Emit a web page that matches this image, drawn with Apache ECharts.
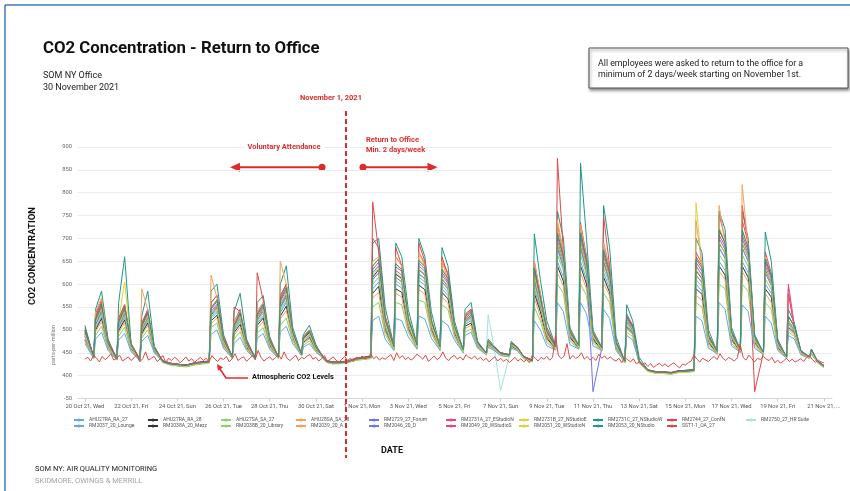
<!DOCTYPE html>
<html>
<head>
<meta charset="utf-8">
<script src="https://cdn.jsdelivr.net/npm/echarts@6/dist/echarts.min.js"></script>
<style>
  html, body { margin: 0; padding: 0; background: #fff; }
  #chart { width: 850px; height: 491px; }
</style>
</head>
<body>
<div id="chart"></div>
<script>
// sensor names, in legend order (10 per row)
const names = [
  'AHU27RA_RA_27', 'AHU27RA_RA_28', 'AHU27SA_SA_27', 'AHU28SA_SA_28', 'RM2729_27_Forum',
  'RM2731A_27_EStudioN', 'RM2731B_27_NStudioE', 'RM2731C_27_NStudioW', 'RM2744_27_ConfN', 'RM2750_27_HR Suite',
  'RM2037_20_Lounge', 'RM2038A_20_Mezz', 'RM2038B_20_Library', 'RM2039_20_A', 'RM2046_20_D',
  'RM2049_20_WStudioS', 'RM2051_20_WStudioN', 'RM2053_20_NStudio', 'SST1-1_OA_27'
]
const colors = ['#5fa8ee', '#333333', '#86d46a', '#f2a45a', '#7373ee', '#e8457c', '#e2d13c', '#1f9886', '#e04848', '#a5e4dc']

// x axis: days after 20 Oct 2021
const tickDays = [0, 2, 4, 6, 8, 10, 12, 14, 16, 18, 20, 22, 24, 26, 28, 30, 32]
// indoor sensors: 4 readings per day, at these fractions of the day
const dayOffsets = [0, 0.38, 0.46, 0.72]
// outdoor sensor: one reading every 3 hours
const outdoorStep = 0.125

// ppm, one row per day (20 Oct .. 20 Nov), last row = 21 Nov 00:00
const AHU27RA_RA_27 = [[480,442,505,530],[464,438,502,528],[460,436,495,520],[455,432,429,427],[425,423,425,427],[429,431,525,538],[470,441,498,518],[464,439,515,530],[468,441,538,560],[484,447,476,488],[458,437,432,429],[429,431,434,437],[438,441,590,605],[505,460,600,592],[508,463,608,598],[504,460,590,575],[495,454,512,520],[466,448,470,460],[447,444,466,459],[440,433,590,545],[485,460,650,615],[486,462,650,610],[482,458,625,590],[464,431,510,496],[430,412,410,408],[408,406,408,410],[410,412,600,585],[475,450,650,630],[482,454,650,625],[474,449,600,580],[465,440,512,497],[450,440,452,431],[421]]
const AHU27RA_RA_28 = [[478,440,500,525],[462,436,498,522],[458,434,492,515],[454,430,427,424],[422,420,422,424],[426,429,520,532],[468,439,494,512],[462,437,510,526],[466,439,530,552],[482,445,472,484],[456,435,430,427],[427,429,432,434],[436,439,580,595],[500,458,590,582],[503,461,598,588],[500,458,582,568],[492,452,508,515],[464,446,468,458],[445,442,464,457],[438,431,580,540],[482,458,640,606],[484,460,640,600],[480,456,615,582],[462,429,506,493],[428,410,408,406],[406,404,406,408],[408,410,590,578],[472,448,640,620],[479,452,640,615],[472,447,590,572],[462,438,506,494],[448,438,450,429],[420]]
const AHU27SA_SA_27 = [[474,438,488,508],[458,434,486,506],[455,432,482,500],[452,428,426,423],[421,419,421,423],[425,427,505,515],[462,437,480,496],[457,435,493,505],[460,437,510,526],[475,443,466,476],[453,434,429,426],[426,428,431,433],[435,437,550,560],[490,456,560,555],[495,459,565,560],[492,456,555,545],[485,450,495,502],[462,445,464,456],[444,441,462,455],[437,430,550,520],[472,456,600,580],[475,458,600,575],[472,454,580,560],[458,428,495,485],[427,409,407,405],[405,403,405,407],[407,409,560,550],[465,446,600,590],[470,450,600,585],[465,445,560,545],[458,437,495,486],[446,437,448,428],[418]]
const AHU28SA_SA_28 = [[478,439,496,518],[461,435,494,516],[457,433,488,510],[453,429,427,424],[422,420,422,424],[426,428,514,526],[466,438,488,506],[460,436,504,518],[464,438,524,542],[480,444,470,481],[455,435,430,427],[427,429,432,435],[436,438,570,582],[497,457,580,572],[500,460,588,578],[497,457,572,558],[489,451,503,510],[463,446,467,457],[445,442,463,456],[438,431,570,530],[478,457,625,596],[480,459,625,590],[476,455,602,575],[460,429,502,490],[428,410,408,406],[406,404,406,408],[408,410,575,565],[470,447,628,610],[476,451,628,605],[470,446,580,560],[460,438,502,490],[447,438,449,429],[419]]
const RM2729_27_Forum = [[500,440,520,548],[470,436,512,542],[466,434,504,532],[460,430,428,426],[424,422,424,426],[428,430,540,556],[476,440,508,532],[468,438,528,548],[474,440,555,582],[490,446,482,496],[460,436,431,428],[428,430,433,436],[438,440,625,640],[518,462,630,620],[520,466,640,628],[516,462,620,602],[504,455,522,532],[470,448,474,461],[448,444,469,461],[440,432,620,562],[494,462,695,650],[494,465,695,640],[365,460,660,615],[470,430,522,503],[430,411,409,407],[407,405,407,409],[409,411,640,620],[484,452,700,676],[490,456,700,666],[480,450,640,608],[470,440,590,503],[450,440,454,431],[420]]
const RM2731A_27_EStudioN = [[505,442,535,565],[476,438,525,555],[470,436,515,545],[463,432,429,427],[425,423,425,428],[430,432,560,575],[482,442,518,545],[474,440,540,560],[480,442,570,600],[495,448,486,500],[464,438,433,430],[430,432,435,438],[440,442,700,680],[530,465,660,640],[528,468,670,645],[522,464,650,625],[510,457,535,545],[472,450,477,463],[450,446,472,463],[442,434,650,580],[505,465,730,665],[500,467,735,660],[495,462,690,635],[474,432,535,510],[432,413,411,409],[409,407,409,411],[411,413,670,645],[490,453,753,700],[497,457,740,690],[486,450,670,625],[476,441,600,510],[454,441,458,432],[422]]
const RM2731B_27_NStudioE = [[495,440,525,560],[472,436,520,605],[468,434,510,540],[462,430,427,425],[424,421,423,426],[428,430,550,565],[478,440,512,540],[470,438,535,555],[476,440,565,595],[492,446,482,498],[462,436,432,428],[428,430,433,436],[438,440,640,655],[525,462,645,630],[525,466,655,640],[520,462,635,615],[508,455,530,540],[470,447,476,462],[447,444,470,461],[440,432,640,570],[498,462,720,660],[497,465,720,650],[492,460,680,625],[470,430,530,506],[430,410,408,406],[406,404,406,408],[408,410,778,640],[488,452,725,690],[494,456,720,680],[484,450,655,618],[474,440,530,506],[452,440,455,430],[418]]
const RM2731C_27_NStudioW = [[510,438,545,585],[480,436,560,660],[470,434,530,585],[465,430,428,425],[422,420,423,425],[428,430,585,600],[490,440,540,580],[480,436,560,575],[485,440,600,640],[505,446,490,510],[468,434,430,426],[427,430,434,436],[440,442,690,700],[550,465,690,660],[545,468,700,660],[540,462,680,640],[520,455,545,560],[475,450,480,465],[450,446,475,462],[440,432,710,610],[520,465,760,700],[505,466,865,700],[500,462,772,680],[485,430,555,520],[440,412,410,407],[407,405,408,410],[412,414,700,670],[500,452,760,720],[505,456,760,700],[490,450,714,650],[480,440,545,515],[455,440,458,430],[420]]
const RM2744_27_ConfN = [[500,442,530,560],[475,438,525,555],[470,436,515,540],[462,432,429,427],[425,423,425,428],[430,432,560,575],[485,442,550,540],[475,440,625,565],[480,442,575,600],[495,448,485,500],[464,438,433,430],[430,432,435,438],[440,442,780,670],[530,465,680,640],[525,468,690,650],[520,464,660,620],[510,456,530,545],[472,450,476,463],[450,446,470,463],[442,434,640,575],[505,465,875,670],[500,466,720,660],[495,462,748,640],[475,432,530,508],[432,413,411,409],[409,407,409,411],[411,413,660,640],[488,453,720,690],[495,457,772,690],[365,450,660,620],[476,441,530,508],[454,441,456,432],[422]]
const RM2750_27_HR_Suite = [[485,440,512,540],[466,436,508,535],[462,434,500,527],[458,430,428,425],[423,421,423,425],[427,430,530,545],[472,440,504,526],[466,438,522,540],[470,440,548,572],[488,446,480,494],[460,436,431,428],[428,430,432,435],[437,440,610,625],[512,460,615,605],[514,464,625,612],[510,460,605,588],[500,454,518,527],[468,448,533,460],[367,444,468,460],[440,432,605,555],[490,460,675,635],[490,463,675,628],[486,458,645,605],[466,430,518,500],[430,411,409,407],[407,405,407,409],[409,411,620,605],[480,451,680,660],[486,455,680,650],[478,450,660,600],[468,440,518,500],[450,440,453,430],[420]]
const RM2037_20_Lounge = [[470,438,480,495],[455,435,478,492],[452,433,475,488],[450,430,427,425],[423,421,423,425],[427,429,490,500],[460,438,470,484],[455,436,482,492],[458,438,495,508],[470,444,462,470],[452,435,430,427],[427,429,432,435],[436,439,520,530],[480,455,525,520],[485,458,530,524],[482,455,520,510],[478,450,488,495],[460,446,462,455],[444,442,460,455],[438,431,520,500],[465,456,560,540],[468,458,560,535],[465,455,545,525],[455,430,488,478],[428,411,409,407],[407,405,407,409],[409,411,530,520],[460,448,560,545],[465,451,555,540],[460,446,530,515],[455,438,488,480],[446,438,448,429],[419]]
const RM2038A_20_Mezz = [[492,442,515,545],[468,438,510,540],[464,436,502,530],[458,432,429,427],[425,423,425,427],[429,431,535,552],[474,441,505,530],[467,439,525,545],[472,441,552,578],[488,447,480,494],[460,437,432,429],[429,431,434,437],[438,441,615,632],[515,462,622,612],[518,465,632,620],[512,461,612,595],[502,455,520,530],[469,448,472,461],[448,444,468,460],[440,433,615,560],[492,461,688,645],[493,464,688,636],[488,459,655,612],[468,431,520,502],[431,412,410,408],[408,406,408,410],[410,412,630,612],[482,451,690,668],[488,455,690,660],[478,449,632,603],[468,440,520,502],[450,440,453,431],[421]]
const RM2038B_20_Library = [[488,441,510,536],[466,437,506,532],[462,435,498,524],[457,431,428,426],[424,422,424,426],[428,430,528,542],[471,440,500,522],[465,438,518,536],[469,440,542,565],[486,446,478,490],[459,436,431,428],[428,430,433,436],[437,440,600,615],[508,460,608,598],[512,463,615,605],[507,460,598,582],[498,454,515,524],[467,447,470,460],[447,443,467,459],[439,432,600,550],[488,460,665,628],[489,462,665,620],[484,458,636,598],[466,430,515,498],[430,411,409,407],[407,405,407,409],[409,411,610,595],[478,450,665,645],[484,454,665,638],[476,449,612,588],[466,440,515,498],[450,440,452,430],[420]]
const RM2039_20_A = [[490,440,540,570],[470,436,520,550],[468,434,590,545],[460,430,427,424],[423,421,424,427],[428,430,620,570],[480,440,520,540],[470,438,540,560],[478,440,650,600],[495,446,485,500],[462,436,431,427],[428,431,433,437],[438,440,650,660],[525,462,660,640],[530,466,670,640],[525,462,650,610],[510,455,535,540],[470,448,478,462],[448,444,472,462],[440,432,650,580],[500,462,740,670],[500,465,730,655],[495,460,690,630],[472,430,530,505],[430,412,409,407],[408,406,407,409],[410,412,739,640],[490,452,772,690],[495,456,818,680],[485,450,660,620],[475,440,583,505],[452,440,455,430],[422]]
const RM2046_20_D = [[486,441,512,540],[466,437,508,536],[462,435,500,528],[457,431,428,426],[424,422,424,426],[428,430,532,548],[473,440,503,527],[466,438,522,541],[470,440,548,572],[488,446,480,492],[460,436,431,428],[428,430,433,436],[437,440,610,625],[512,461,615,605],[515,464,622,612],[510,461,605,590],[500,454,518,528],[468,447,471,460],[447,443,468,460],[440,432,608,555],[490,460,680,636],[490,463,680,628],[486,458,648,605],[467,430,518,500],[430,411,409,407],[407,405,407,409],[409,411,620,603],[480,451,680,656],[486,455,680,650],[477,449,625,597],[467,440,518,500],[450,440,453,430],[420]]
const RM2049_20_WStudioS = [[496,442,522,552],[470,438,515,546],[466,436,506,536],[460,432,429,427],[425,423,425,427],[429,431,545,562],[478,441,510,535],[470,439,532,552],[476,441,562,588],[492,447,482,497],[462,437,432,429],[429,431,434,437],[438,441,632,648],[520,463,638,628],[522,466,646,633],[518,462,626,606],[506,456,525,536],[471,449,475,462],[449,445,471,462],[441,433,628,568],[496,463,705,658],[496,466,705,648],[491,461,668,622],[471,431,527,506],[432,412,410,408],[408,406,408,410],[410,412,648,628],[486,453,708,683],[493,457,708,673],[483,451,648,614],[473,441,580,506],[453,441,456,432],[422]]
const RM2051_20_WStudioN = [[490,439,516,546],[467,435,511,540],[463,433,503,531],[458,429,427,424],[422,420,422,424],[426,428,536,552],[474,438,505,530],[467,436,525,545],[472,438,553,580],[488,444,478,492],[459,434,429,426],[426,428,431,434],[435,438,620,636],[515,459,625,615],[517,463,634,622],[512,459,614,596],[502,452,520,530],[468,446,472,459],[446,442,468,459],[438,430,618,560],[492,459,690,646],[492,462,690,637],[487,457,656,613],[467,428,520,502],[428,409,407,405],[405,403,405,407],[407,409,632,614],[481,449,692,668],[488,453,692,660],[478,447,634,603],[468,438,520,502],[449,438,452,428],[417]]
const RM2053_20_NStudio = [[498,440,524,556],[471,436,518,550],[467,434,508,540],[461,430,428,425],[424,422,424,426],[428,430,548,566],[479,440,512,538],[471,438,535,556],[477,440,566,593],[494,446,484,498],[462,436,431,428],[428,430,433,436],[438,440,640,655],[523,463,645,632],[525,467,652,638],[520,463,632,612],[508,456,528,540],[472,449,476,462],[449,445,471,462],[441,432,635,572],[498,463,712,662],[498,466,712,652],[493,461,675,628],[472,431,530,508],[432,412,410,408],[408,406,408,410],[410,412,655,635],[488,453,718,690],[495,457,718,680],[485,451,655,620],[474,441,530,508],[454,441,457,432],[422]]
// outdoor air, 8 readings per day
const SST1_1_OA_27 = [[436,440,432,445,438,430,442,435],[440,448,434,438,445,432,436,441],[433,439,446,430,437,452,434,438],[442,431,436,444,429,438,433,440],[436,428,434,441,432,437,429,435],[440,433,438,430,444,436,431,439],[435,442,430,437,448,433,438,441],[431,438,444,435,455,440,432,437],[441,434,439,447,436,452,438,433],[438,445,433,440,437,443,446,436],[440,432,437,444,430,436,441,434],[429,436,442,433,438,431,440,437],[443,436,440,448,437,442,434,439],[436,441,446,433,450,438,444,435],[440,434,439,447,442,436,445,431],[437,443,435,440,452,438,433,441],[444,436,441,434,446,440,437,443],[435,440,433,438,430,436,441,432],[438,431,436,429,434,440,432,437],[430,435,428,445,438,432,440,436],[442,434,440,488,445,437,443,470],[436,444,438,441,450,436,442,434],[440,433,447,438,443,436,441,435],[432,438,428,440,435,430,437,426],[430,424,428,420,426,418,423,427],[421,426,419,424,428,422,417,425],[423,428,432,445,436,430,438,434],[431,437,442,435,448,438,433,440],[436,432,439,468,440,434,445,437],[430,438,435,442,436,433,440,428],[434,427,432,438,431,436,430,433],[437,431,440,444,435,429,434,430],[428]]

const indoor = [
  AHU27RA_RA_27, AHU27RA_RA_28, AHU27SA_SA_27, AHU28SA_SA_28, RM2729_27_Forum,
  RM2731A_27_EStudioN, RM2731B_27_NStudioE, RM2731C_27_NStudioW, RM2744_27_ConfN, RM2750_27_HR_Suite,
  RM2037_20_Lounge, RM2038A_20_Mezz, RM2038B_20_Library, RM2039_20_A, RM2046_20_D,
  RM2049_20_WStudioS, RM2051_20_WStudioN, RM2053_20_NStudio
]

const FONT = 'Roboto, "Noto Sans", sans-serif'
const MONTHS = ['Jan', 'Feb', 'Mar', 'Apr', 'May', 'Jun', 'Jul', 'Aug', 'Sep', 'Oct', 'Nov', 'Dec']
const WEEKDAYS = ['Sun', 'Mon', 'Tue', 'Wed', 'Thu', 'Fri', 'Sat']
const startMs = Date.UTC(2021, 9, 20)

function dateLabel (v) {
  if (v >= 32) return '21 Nov 21, ...'
  const d = new Date(startMs + Math.round(v) * 86400000)
  return d.getUTCDate() + ' ' + MONTHS[d.getUTCMonth()] + ' 21, ' + WEEKDAYS[d.getUTCDay()]
}

// day rows -> [x, y] pairs
function toPoints (rows, offsets) {
  const pts = []
  rows.forEach((row, day) => {
    row.forEach((v, j) => pts.push([day + offsets[j], v]))
  })
  return pts
}
const outdoorOffsets = [0, 1, 2, 3, 4, 5, 6, 7].map(k => k * outdoorStep)

const series = indoor.map((rows, i) => ({
  name: names[i],
  type: 'line',
  data: toPoints(rows, dayOffsets),
  showSymbol: false,
  symbol: 'circle',
  symbolSize: 3,
  color: colors[i % 10],
  lineStyle: { width: 1 },
  emphasis: { disabled: true },
  clip: true
}))
series.push({
  name: names[18],
  type: 'line',
  data: toPoints(SST1_1_OA_27, outdoorOffsets),
  showSymbol: false,
  symbol: 'circle',
  symbolSize: 3,
  color: colors[8],
  lineStyle: { width: 1 },
  emphasis: { disabled: true },
  clip: true
})

// legend laid out as a grid: one small legend per column, two rows each
const legendCols = [73, 147, 220, 295, 368, 445, 518, 592, 666, 745]
const legends = legendCols.map((x, c) => ({
  left: x,
  top: 417,
  orient: 'vertical',
  itemWidth: 10,
  itemHeight: 4,
  itemGap: 0,
  padding: 0,
  selectedMode: false,
  data: names.filter((n, i) => i % 10 === c),
  textStyle: { fontFamily: FONT, fontSize: 5, lineHeight: 6, color: '#555' }
}))

const red = '#dd2c2c'
const chart = echarts.init(document.getElementById('chart'))
chart.setOption({
  animation: false,
  backgroundColor: '#fff',
  grid: { left: 78, right: 18, top: 147, bottom: 92.5 },
  legend: legends,
  xAxis: {
    type: 'value',
    min: -0.3,
    max: 32.35,
    splitLine: { show: false },
    axisLine: { lineStyle: { color: '#d6d6d6' } },
    axisTick: { customValues: tickDays, length: 3, lineStyle: { color: '#cfcfcf' } },
    axisLabel: {
      customValues: tickDays,
      formatter: dateLabel,
      fontFamily: FONT,
      fontSize: 5.8,
      color: '#555',
      margin: 5
    }
  },
  yAxis: {
    type: 'value',
    min: 350,
    max: 900,
    interval: 50,
    axisLine: { show: false },
    axisTick: { show: false },
    splitLine: { lineStyle: { color: '#ececec' } },
    axisLabel: {
      formatter: v => (v === 350 ? '-50' : String(v)),
      fontFamily: FONT,
      fontSize: 5.8,
      color: '#666',
      margin: 6
    }
  },
  series,
  graphic: [
    // page frame
    { type: 'line', shape: { x1: 5, y1: 5, x2: 850, y2: 5 }, style: { stroke: '#3d78b8', lineWidth: 1.5 } },
    { type: 'line', shape: { x1: 5, y1: 5, x2: 5, y2: 491 }, style: { stroke: '#3d78b8', lineWidth: 1.5 } },
    // titles
    { type: 'text', x: 43, y: 49, style: { text: 'CO2 Concentration - Return to Office', font: 'bold 16.8px ' + FONT, fill: '#111', textVerticalAlign: 'middle' } },
    { type: 'text', x: 43, y: 76, style: { text: 'SOM NY Office', font: '9px ' + FONT, fill: '#222', textVerticalAlign: 'middle' } },
    { type: 'text', x: 43, y: 87.5, style: { text: '30 November 2021', font: '9px ' + FONT, fill: '#222', textVerticalAlign: 'middle' } },
    // note box
    {
      type: 'rect',
      shape: { x: 589, y: 48, width: 259, height: 40 },
      style: { fill: '#fff', stroke: '#555', lineWidth: 1, shadowBlur: 3, shadowOffsetX: 1, shadowOffsetY: 2, shadowColor: 'rgba(0,0,0,0.45)' }
    },
    { type: 'text', x: 598, y: 64, style: { text: 'All employees were asked to return to the office for a', font: '8.8px ' + FONT, fill: '#222', textVerticalAlign: 'middle' } },
    { type: 'text', x: 598, y: 74.5, style: { text: 'minimum of 2 days/week starting on November 1st.', font: '8.8px ' + FONT, fill: '#222', textVerticalAlign: 'middle' } },
    // November 1 marker
    { type: 'text', x: 331, y: 98, style: { text: 'November 1, 2021', font: 'bold 7.5px ' + FONT, fill: red, textAlign: 'center', textVerticalAlign: 'middle' } },
    { type: 'line', shape: { x1: 346, y1: 111, x2: 346, y2: 458 }, style: { stroke: red, lineWidth: 2, lineDash: [5, 3] }, z: 10 },
    { type: 'rect', shape: { x: 244, y: 142.5, width: 80, height: 9 }, style: { fill: '#fff' }, z: 50 },
    { type: 'text', x: 284, y: 147, style: { text: 'Voluntary Attendance', font: 'bold 7.5px ' + FONT, fill: red, textAlign: 'center', textVerticalAlign: 'middle' }, z: 51 },
    { type: 'text', x: 366, y: 140, style: { text: 'Return to Office', font: 'bold 7.5px ' + FONT, fill: red, textVerticalAlign: 'middle' }, z: 51 },
    { type: 'text', x: 366, y: 150.5, style: { text: 'Min. 2 days/week', font: 'bold 7.5px ' + FONT, fill: red, textVerticalAlign: 'middle' }, z: 51 },
    // arrows
    { type: 'line', shape: { x1: 322, y1: 167.3, x2: 237, y2: 167.3 }, style: { stroke: red, lineWidth: 2 } },
    { type: 'polygon', shape: { points: [[230, 167.3], [240, 162.8], [240, 171.8]] }, style: { fill: red } },
    { type: 'circle', shape: { cx: 322, cy: 167.3, r: 3.5 }, style: { fill: red } },
    { type: 'line', shape: { x1: 363, y1: 167.3, x2: 430, y2: 167.3 }, style: { stroke: red, lineWidth: 2 } },
    { type: 'polygon', shape: { points: [[437.5, 167.3], [427.5, 162.8], [427.5, 171.8]] }, style: { fill: red } },
    { type: 'circle', shape: { cx: 363, cy: 167.3, r: 3.5 }, style: { fill: red } },
    // atmospheric callout
    { type: 'text', x: 252, y: 377.5, style: { text: 'Atmospheric CO2 Levels', font: 'bold 7.4px ' + FONT, fill: '#111', textVerticalAlign: 'middle' }, z: 10 },
    { type: 'polyline', shape: { points: [[248, 378], [226, 378], [220, 369]] }, style: { stroke: red, lineWidth: 1.6, fill: null }, z: 10 },
    { type: 'polygon', shape: { points: [[217, 364], [223, 367.4], [218, 370.8]] }, style: { fill: red }, z: 10 },
    // axis titles
    { type: 'text', x: 33, y: 256, rotation: Math.PI / 2, style: { text: 'CO2 CONCENTRATION', font: 'bold 9.5px ' + FONT, fill: '#111', textAlign: 'center', textVerticalAlign: 'middle' } },
    { type: 'text', x: 54, y: 345, rotation: Math.PI / 2, style: { text: 'parts-per-million', font: '5.5px ' + FONT, fill: '#777', textAlign: 'center', textVerticalAlign: 'middle' } },
    { type: 'text', x: 392, y: 451, style: { text: 'DATE', font: 'bold 9px ' + FONT, fill: '#111', textAlign: 'center', textVerticalAlign: 'middle' } },
    // footer
    { type: 'text', x: 35, y: 469.5, style: { text: 'SOM NY: AIR QUALITY MONITORING', font: '7.5px ' + FONT, fill: '#222', textVerticalAlign: 'middle' } },
    { type: 'text', x: 35, y: 481, style: { text: 'SKIDMORE, OWINGS & MERRILL', font: '7.5px ' + FONT, fill: '#a3a3a3', textVerticalAlign: 'middle' } }
  ]
})
</script>
</body>
</html>
